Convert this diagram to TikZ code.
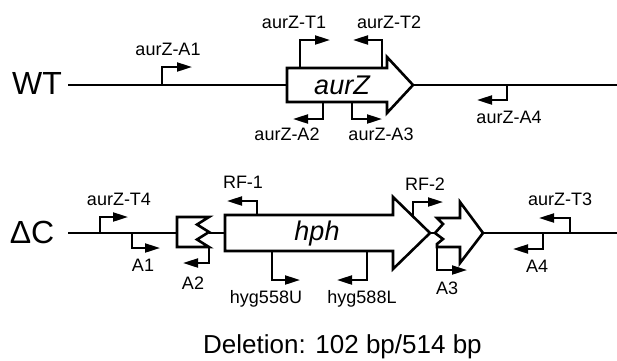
\documentclass[tikz,border=0pt]{standalone}
\usepackage{fontspec}
\setmainfont{Liberation Sans}
\usetikzlibrary{arrows.meta}
\begin{document}
\begin{tikzpicture}[x=1pt,y=-1pt,
  dna/.style={line width=2pt},
  gene/.style={line width=2.6pt, line join=miter, fill=white},
  primer/.style={line width=2pt, -{Triangle[length=15pt,width=9pt]}},
  lbl/.style={font=\fontsize{18}{20}\selectfont, inner sep=0pt},
  big/.style={font=\fontsize{32}{36}\selectfont, inner sep=0pt},
  gname/.style={font=\fontsize{27}{30}\selectfont\itshape, inner sep=0pt},
  note/.style={font=\fontsize{26}{30}\selectfont, inner sep=0pt}]
\useasboundingbox (0,0) rectangle (617,360);

% ---------------- WT ----------------
\node[big] (wt) at (37,83) {WT};
\coordinate (w0) at (68,85);
\coordinate (w1) at (287,85);
\coordinate (w2) at (413,85);
\coordinate (w3) at (617,85);
\draw[dna] (w0) -- (w1);
\draw[dna] (w2) -- (w3);
\draw[gene] (287,68) -- (387,68) -- (387,57) -- (413,85) -- (387,113) -- (387,102) -- (287,102) -- cycle;
\node[gname] (aurz) at (342,85) {aurZ};

% primers WT
\draw[primer] (162,85) |- (192,67);
\node[lbl] (la1) at (168,49) {aurZ-A1};
\draw[primer] (300,68) |- (330,40);
\node[lbl] (lt1) at (294,22) {aurZ-T1};
\draw[primer] (382,68) |- (353,40);
\node[lbl] (lt2) at (389,22) {aurZ-T2};
\draw[primer] (323,102) |- (293,119);
\node[lbl] (la2) at (287,134) {aurZ-A2};
\draw[primer] (352,102) |- (382,119);
\node[lbl] (la3) at (381,134) {aurZ-A3};
\draw[primer] (507,85) |- (477,100);
\node[lbl] (la4) at (509,117) {aurZ-A4};

% ---------------- Delta C ----------------
\node[big] (dc) at (32,232) {ΔC};
\draw[dna] (68,233) -- (177,233);
\draw[gene] (177,217) -- (209,217) -- (197,224.5) -- (209,232) -- (197,239.5) -- (209,247) -- (177,247) -- cycle;
\draw[dna] (209,233) -- (225,233);
\draw[gene] (225,215) -- (393,215) -- (393,197) -- (430,233) -- (393,269) -- (393,251) -- (225,251) -- cycle;
\node[gname] (hph) at (317,234) {hph};
\draw[dna] (430,233) -- (436,233);
\draw[gene] (437,218) -- (460,218) -- (460,202) -- (483,233) -- (460,263) -- (460,247) -- (437,247) -- (437,244) -- (443,239) -- (435,233) -- (443,224) -- cycle;
\draw[dna] (483,233) -- (617,233);

% primers Delta C
\draw[primer] (100,233) |- (128,217);
\node[lbl] (lt4) at (119,199) {aurZ-T4};
\draw[primer] (132,233) |- (160,248);
\node[lbl] (lb1) at (143,265) {A1};
\draw[primer] (209,247) |- (183,263);
\node[lbl] (lb2) at (193,283) {A2};
\draw[primer] (257,215) |- (227,201);
\node[lbl] (lrf1) at (243,182) {RF-1};
\draw[primer] (272,251) |- (300,280);
\node[lbl, anchor=base] (lh1) at (266,303) {hyg558U};
\draw[primer] (367,251) |- (337,280);
\node[lbl, anchor=base] (lh2) at (362,303) {hyg588L};
\draw[primer] (413,216) |- (443,202);
\node[lbl] (lrf2) at (425,184) {RF-2};
\draw[primer] (437,247) |- (467,270);
\node[lbl] (lb3) at (447,288) {A3};
\draw[primer] (570,233) |- (539,218);
\node[lbl] (lt3) at (560,199) {aurZ-T3};
\draw[primer] (543,233) |- (513,249);
\node[lbl] (lb4) at (537,266) {A4};

% ---------------- note ----------------
\node[note, anchor=base west] (del) at (203,353) {Deletion: 102 bp/514 bp};
\end{tikzpicture}
\end{document}
